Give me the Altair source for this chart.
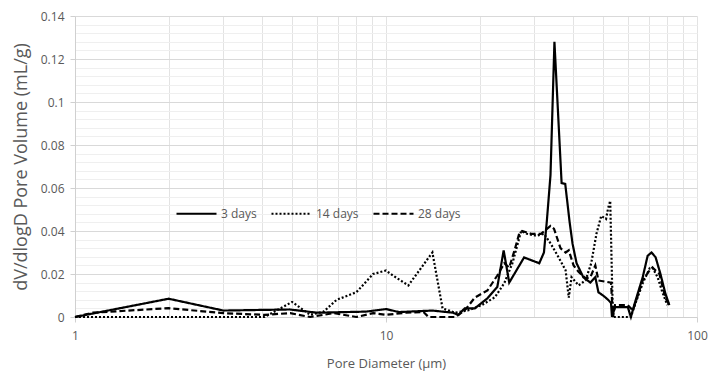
import altair as alt
import pandas as pd

# ---- data ----
d3_x = [1, 2, 3, 4.9, 6.0, 8.6, 10, 11, 14.1, 16.4, 17.1, 17.9, 19.3, 21.2, 22.8, 23.9, 24.9,
        27.8, 31.1, 32.2, 32.9, 33.8, 34.8, 36.7, 37.7, 38.9, 39.8, 41.0, 43.1, 45.4, 47.1,
        48.2, 49.9, 51.8, 52.9, 53.3, 54.5, 59.9, 61.3, 63.1, 66.9, 69.4, 71.4, 73.6, 76.3,
        79.1, 81.5]
d3_y = [0, 0.0085, 0.003, 0.0035, 0.002, 0.0025, 0.0037, 0.0023, 0.003, 0.002, 0.001, 0.004,
        0.004, 0.0087, 0.014, 0.031, 0.016, 0.0277, 0.025, 0.030, 0.0447, 0.066, 0.128, 0.0623,
        0.0619, 0.0447, 0.034, 0.025, 0.0185, 0.016, 0.0185, 0.0115, 0.010, 0.008, 0.0065, 0,
        0.0046, 0.0046, 0, 0.0065, 0.0185, 0.0285, 0.030, 0.0278, 0.020, 0.011, 0.0055]

d14_x = [1, 4.07, 4.99, 5.7, 6.3, 6.94, 8.03, 9.09, 10, 10.6, 11.8, 14.1, 15.2, 16.7, 18.3,
         20.3, 22.4, 24.0, 25.5, 27.2, 28.4, 30.4, 32.2, 33.9, 35.9, 37.8, 38.7, 39.5, 41.6,
         43.8, 45.7, 47.5, 49.2, 51.0, 51.8, 52.6, 53.3, 53.7, 61.3, 63.1, 66.9, 70.4, 71.9,
         74.7, 77.4, 80.3]
d14_y = [0, 0, 0.007, 0.001, 0.0025, 0.008, 0.0115, 0.020, 0.0216, 0.019, 0.0147, 0.030, 0.004,
         0.002, 0.003, 0.0055, 0.0092, 0.0157, 0.025, 0.040, 0.0387, 0.0378, 0.0387, 0.034,
         0.0277, 0.0217, 0.009, 0.0185, 0.0147, 0.017, 0.025, 0.0387, 0.047, 0.0456, 0.0507,
         0.054, 0.017, 0, 0, 0.0055, 0.0157, 0.0226, 0.023, 0.0185, 0.0115, 0.0055]

d28_x = [1, 1.14, 2, 3, 4.07, 4.92, 5.7, 6.79, 8.03, 9.09, 10, 11.6, 13.2, 13.7, 16.7, 17.9,
         19.3, 21.2, 22.8, 24.0, 24.9, 25.9, 26.8, 27.4, 29.3, 31.5, 33.8, 34.7, 36.4, 37.8,
         38.7, 40.1, 41.6, 43.8, 45.4, 47.1, 48.2, 52.9, 53.7, 54.5, 59.9, 62.2, 66.9, 70.4,
         71.9, 75.7, 79.1, 81.5]
d28_y = [0, 0.002, 0.0041, 0.0018, 0.001, 0.0018, 0, 0.0018, 0, 0.0018, 0.001, 0.002, 0.0023,
         0, 0, 0.003, 0.009, 0.0124, 0.0193, 0.025, 0.023, 0.031, 0.0387, 0.040, 0.0387, 0.0387,
         0.0424, 0.041, 0.032, 0.030, 0.031, 0.024, 0.021, 0.018, 0.0185, 0.024, 0.017, 0.016,
         0, 0.0055, 0.0055, 0.003, 0.017, 0.0217, 0.023, 0.020, 0.009, 0.0055]

series = ["3 days", "14 days", "28 days"]
x_ticks = [1, 2, 3, 4, 5, 6, 7, 8, 9, 10, 20, 30, 40, 50, 60, 70, 80, 90, 100]
y_ticks = [0, 0.004, 0.008, 0.012, 0.016, 0.02, 0.024, 0.028, 0.032, 0.036, 0.04, 0.044,
           0.048, 0.052, 0.056, 0.06, 0.064, 0.068, 0.072, 0.076, 0.08, 0.084, 0.088, 0.092,
           0.096, 0.1, 0.104, 0.108, 0.112, 0.116, 0.12, 0.124, 0.128, 0.132, 0.136, 0.14]

rows = []
for name, xs, ys in zip(series, [d3_x, d14_x, d28_x], [d3_y, d14_y, d28_y]):
    for i, (a, b) in enumerate(zip(xs, ys)):
        rows.append({"series": name, "x": a, "y": b, "i": i})
df = pd.DataFrame(rows)

FONT = "Open Sans"
GRAY = "#595959"

major_y = "abs(datum.value*50 - round(datum.value*50)) < 1e-6"
major_x = "datum.value == 1 || datum.value == 10 || datum.value == 100"

chart = alt.Chart(df).mark_line(color="black", strokeWidth=2.2).encode(
    x=alt.X("x:Q",
            scale=alt.Scale(type="log", domain=[1, 100], nice=False),
            axis=alt.Axis(values=x_ticks, title="Pore Diameter (µm)",
                          labelExpr=f"({major_x}) ? datum.label : ''",
                          format="~g", labelFlush=False,
                          gridColor="#e3e3e3",
                          tickOpacity={"condition": {"test": major_x, "value": 1}, "value": 0},
                          tickColor="#d0d0d0", tickSize=5,
                          domainColor="#d0d0d0",
                          labelPadding=8, titlePadding=16)),
    y=alt.Y("y:Q",
            scale=alt.Scale(domain=[0, 0.14], nice=False),
            axis=alt.Axis(values=y_ticks, title="dV/dlogD Pore Volume (mL/g)",
                          labelExpr=f"({major_y}) ? format(datum.value, '~g') : ''",
                          labelFlush=False,
                          gridColor={"condition": {"test": major_y, "value": "#d9d9d9"},
                                     "value": "#efefef"},
                          tickOpacity={"condition": {"test": major_y, "value": 1}, "value": 0},
                          tickColor="#d0d0d0", tickSize=5,
                          domainColor="#d0d0d0",
                          titleFontSize=18,
                          labelPadding=6, titlePadding=10)),
    strokeDash=alt.StrokeDash("series:N",
                              scale=alt.Scale(domain=series, range=[[1, 0], [2, 2], [6, 3]]),
                              legend=alt.Legend(title=None, orient="none", direction="horizontal",
                                                legendX=100, legendY=176,
                                                symbolType="stroke", symbolSize=1600,
                                                symbolStrokeWidth=2.2, symbolStrokeColor="black",
                                                labelFont=FONT, labelFontSize=12,
                                                labelColor=GRAY, labelOffset=3,
                                                columnPadding=10)),
    order="i:Q",
).properties(
    width=622, height=301,
    autosize=alt.AutoSizeParams(type="none"),
    padding={"left": 67, "top": 8, "right": 11, "bottom": 59},
).configure_axis(
    labelFont=FONT, labelFontSize=12, labelColor=GRAY,
    titleFont=FONT, titleFontSize=13, titleColor=GRAY, titleFontWeight="normal",
).configure_view(stroke=None)

chart.save("out.html", embed_options={"renderer": "svg", "actions": False})
